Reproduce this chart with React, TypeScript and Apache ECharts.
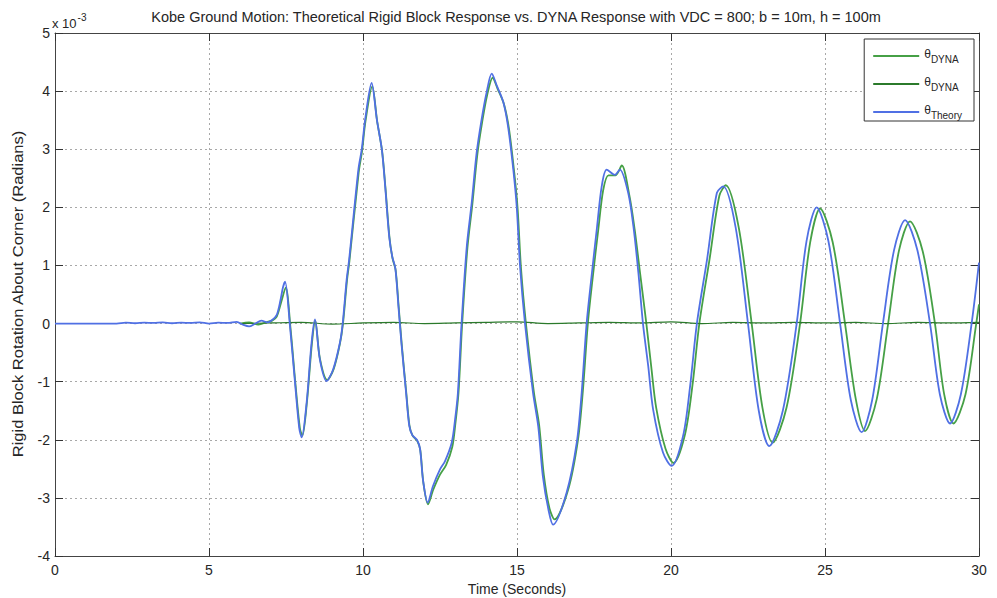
import React, { useEffect, useRef } from "react";
import * as echarts from "echarts";

const titleText =
  "Kobe Ground Motion: Theoretical Rigid Block Response vs. DYNA Response with VDC = 800; b = 10m, h = 100m";
const xAxisTitle = "Time (Seconds)";
const yAxisTitle = "Rigid Block Rotation About Corner (Radians)";
const xMin = 0;
const xMax = 30;
const xStep = 5;
const yMin = -4;
const yMax = 5;
const yStep = 1;

// values in units of 1e-3 rad
const theoryTime = [
  0, 2.0, 2.3, 2.6, 2.9, 3.2, 3.5, 3.8, 4.1, 4.4, 4.7, 5.0, 5.3, 5.6, 5.9, 6.1, 6.3, 6.5, 6.7, 6.9,
  7.05, 7.2, 7.32, 7.4, 7.47, 7.63, 7.79, 7.93, 8.01, 8.17, 8.33, 8.44, 8.6, 8.82, 9.03, 9.25, 9.34,
  9.47, 9.55, 9.85, 9.96, 10.07, 10.28, 10.45, 10.61, 10.72, 10.85, 10.95, 11.05, 11.15, 11.25, 11.4,
  11.5, 11.6, 11.75, 11.85, 11.95, 12.1, 12.27, 12.5, 12.66, 12.88, 12.99, 13.08, 13.2, 13.37, 13.53,
  13.69, 13.85, 14.01, 14.18, 14.34, 14.55, 14.71, 14.88, 14.99, 15.1, 15.26, 15.52, 15.69, 15.84,
  16.02, 16.17, 16.61, 16.94, 17.1, 17.26, 17.42, 17.6, 17.75, 17.91, 18.18, 18.34, 18.61, 18.78,
  18.94, 19.09, 19.26, 19.42, 19.74, 20.02, 20.39, 20.62, 20.84, 21.17, 21.49, 21.7, 22.1, 22.5,
  22.85, 23.19, 23.63, 24.08, 24.4, 24.73, 25.11, 25.49, 25.84, 26.19, 26.53, 26.88, 27.24, 27.6,
  28.0, 28.41, 28.73, 29.06, 29.41, 29.76, 30.0,
];
const theoryValue = [
  0, 0, 0.015, 0.005, 0.015, 0.01, 0.02, 0.005, 0.015, 0.01, 0.02, 0.0, 0.015, 0.01, 0.03, -0.02,
  -0.05, 0.0, 0.05, 0.02, 0.06, 0.15, 0.4, 0.62, 0.72, -0.05, -1.0, -1.8, -1.96, -1.36, -0.33, 0.07,
  -0.62, -0.99, -0.79, -0.33, 0, 0.76, 1.1, 2.65, 3.0, 3.51, 4.14, 3.51, 3.0, 2.36, 1.5, 1.15, 0.95,
  0.3, -0.35, -1.2, -1.75, -1.92, -2.0, -2.15, -2.7, -3.08, -2.8, -2.51, -2.37, -2.05, -1.65, -1.2,
  0, 1.33, 2.08, 2.94, 3.51, 3.97, 4.3, 4.1, 3.82, 3.39, 2.65, 2.02, 0.98, 0, -1.19, -1.77, -2.63,
  -3.2, -3.46, -2.91, -2.05, -1.19, 0, 0.81, 1.67, 2.36, 2.65, 2.56, 2.65, 2.25, 1.67, 0.88, 0,
  -0.73, -1.48, -2.22, -2.45, -1.94, -1.08, 0, 1.1, 2.25, 2.36, 1.65, 0, -1.5, -2.11, -1.5, 0, 1.42,
  2.0, 1.42, 0, -1.32, -1.87, -1.32, 0, 1.26, 1.78, 1.26, 0, -1.22, -1.72, -1.22, 0, 1.05,
];

const dynaTime = [
  6.0, 6.3, 6.6, 6.9, 7.05, 7.2, 7.35, 7.49, 7.65, 7.8, 7.95, 8.03, 8.18, 8.34, 8.45, 8.6, 8.84, 9.05,
  9.25, 9.35, 9.48, 9.56, 9.86, 9.97, 10.08, 10.3, 10.46, 10.62, 10.73, 10.86, 10.96, 11.06, 11.16,
  11.26, 11.41, 11.51, 11.61, 11.76, 11.86, 11.96, 12.11, 12.28, 12.5, 12.7, 12.9, 13.0, 13.1, 13.22,
  13.39, 13.55, 13.71, 13.87, 14.03, 14.21, 14.37, 14.58, 14.74, 14.91, 15.02, 15.13, 15.29, 15.55,
  15.72, 15.87, 16.05, 16.22, 16.66, 16.98, 17.14, 17.3, 17.46, 17.64, 17.8, 17.97, 18.2, 18.4, 18.65,
  18.82, 19.0, 19.2, 19.36, 19.52, 19.82, 20.08, 20.45, 20.7, 20.92, 21.25, 21.57, 21.78, 22.2, 22.62,
  22.97, 23.3, 23.75, 24.19, 24.52, 24.84, 25.25, 25.65, 26.0, 26.3, 26.68, 27.05, 27.4, 27.76,
  28.17, 28.57, 28.87, 29.17, 29.56, 29.91, 30.0,
];
const dynaValue = [
  0, 0.02, -0.02, 0.03, 0.05, 0.12, 0.38, 0.62, -0.1, -1.0, -1.8, -1.93, -1.35, -0.35, 0.05, -0.6,
  -0.97, -0.78, -0.35, 0, 0.74, 1.08, 2.6, 2.97, 3.48, 4.08, 3.48, 2.97, 2.33, 1.48, 1.12, 0.92,
  0.28, -0.37, -1.22, -1.76, -1.93, -2.02, -2.18, -2.74, -3.11, -2.86, -2.6, -2.43, -2.12, -1.72,
  -1.2, 0, 1.3, 2.05, 2.9, 3.47, 3.93, 4.23, 4.04, 3.77, 3.35, 2.6, 1.98, 0.95, 0, -1.19, -1.75,
  -2.6, -3.17, -3.37, -2.86, -2.0, -1.15, 0, 0.8, 1.62, 2.3, 2.55, 2.55, 2.72, 2.2, 1.62, 0.85, 0,
  -0.75, -1.45, -2.15, -2.4, -1.92, -1.05, 0, 1.1, 2.2, 2.38, 1.65, 0, -1.45, -2.05, -1.45, 0, 1.4,
  1.98, 1.4, 0, -1.3, -1.85, -1.3, 0, 1.25, 1.76, 1.25, 0, -1.22, -1.72, -1.22, 0, 0.33,
];

const dynaFlatTime = [
  6, 7, 8, 9, 10, 11, 12, 13, 14, 15, 16, 17, 18, 19, 20, 21, 22, 23, 24, 25, 26, 27, 28, 29, 30,
];
const dynaFlatValue = [
  0, 0.01, 0.02, -0.01, 0.01, 0.02, 0.0, 0.01, 0.02, 0.03, 0.0, 0.01, 0.02, 0.01, 0.03, 0.0, 0.02,
  0.01, 0.02, 0.01, 0.02, 0.0, 0.02, 0.01, 0.02,
];

const seriesNames = ["dynaA", "dynaB", "theory"];
const legendSubscripts = ["DYNA", "DYNA", "Theory"];

const FONT = "Liberation Sans, Arial, sans-serif";
const TEXT = "#262626";

function zip(t: number[], v: number[]) {
  return t.map((x, i) => [x, v[i]]);
}

export default function App() {
  const ref = useRef<HTMLDivElement>(null);
  useEffect(() => {
    if (!ref.current) return;
    const chart = echarts.init(ref.current, undefined, { renderer: "svg" });
    const subMap: Record<string, string> = {};
    seriesNames.forEach((n, i) => (subMap[n] = legendSubscripts[i]));

    const tickStyle = { show: true, inside: true, length: 8, lineStyle: { color: "#333" } };
    const axisLine = { show: true, onZero: false, lineStyle: { color: "#444", width: 1 } };
    const split = { show: true, lineStyle: { color: "#a8a8a8", type: [2, 3] as any, width: 1 } };

    chart.setOption({
      animation: false,
      backgroundColor: "#fff",
      grid: {
        left: 55,
        right: 18,
        top: 33,
        bottom: 42,
        containLabel: false,
        outerBoundsMode: "none",
      },
      graphic: [
        {
          type: "text",
          x: 516,
          y: 17,
          style: {
            text: titleText,
            font: `14.5px ${FONT}`,
            fill: TEXT,
            align: "center",
            verticalAlign: "middle",
          },
        },
        {
          type: "text",
          x: 52,
          y: 11,
          style: {
            text: "{a|x 10}{b|-3}",
            fill: TEXT,
            rich: {
              a: { fontSize: 13, fontFamily: FONT, fill: TEXT, padding: [6, 0, 0, 0] },
              b: { fontSize: 10, fontFamily: FONT, fill: TEXT, padding: [0, 0, 7, 1] },
            },
          },
        },
        {
          type: "text",
          x: 18,
          y: 294,
          rotation: Math.PI / 2,
          scaleX: 1.18,
          style: {
            text: yAxisTitle,
            font: `14px ${FONT}`,
            fill: TEXT,
            align: "center",
            verticalAlign: "middle",
          },
        },
      ],
      legend: {
        orient: "vertical",
        right: 23,
        top: 39,
        align: "left",
        backgroundColor: "#fff",
        borderColor: "#333",
        borderWidth: 1,
        borderRadius: 0,
        padding: [9, 12, 1, 8],
        itemWidth: 46,
        itemHeight: 10,
        itemGap: 12,
        itemStyle: { opacity: 0 },
        data: seriesNames,
        formatter: (name: string) => `{t|θ}{s|${subMap[name]}}`,
        textStyle: {
          color: TEXT,
          rich: {
            t: { fontSize: 12, fontFamily: FONT, color: TEXT, padding: [0, 0, 4, 0] },
            s: { fontSize: 10, fontFamily: FONT, color: TEXT, padding: [6, 0, 0, 0] },
          },
        },
      },
      xAxis: [
        {
          type: "value",
          min: xMin,
          max: xMax,
          interval: xStep,
          position: "bottom",
          name: xAxisTitle,
          nameLocation: "middle",
          nameGap: 25,
          nameTextStyle: { fontSize: 14, fontFamily: FONT, color: TEXT },
          axisLine,
          axisTick: tickStyle,
          axisLabel: { fontSize: 14, fontFamily: FONT, color: TEXT, margin: 7 },
          splitLine: split,
        },
        {
          type: "value",
          min: xMin,
          max: xMax,
          interval: xStep,
          position: "top",
          axisLine,
          axisTick: tickStyle,
          axisLabel: { show: false },
          splitLine: { show: false },
        },
      ],
      yAxis: [
        {
          type: "value",
          min: yMin,
          max: yMax,
          interval: yStep,
          position: "left",
          axisLine,
          axisTick: tickStyle,
          axisLabel: { fontSize: 14, fontFamily: FONT, color: TEXT, margin: 5 },
          splitLine: split,
        },
        {
          type: "value",
          min: yMin,
          max: yMax,
          interval: yStep,
          position: "right",
          axisLine,
          axisTick: tickStyle,
          axisLabel: { show: false },
          splitLine: { show: false },
        },
      ],
      series: [
        {
          name: seriesNames[0],
          type: "line",
          data: zip(dynaTime, dynaValue),
          symbol: "none",
          smooth: 0.3,
          lineStyle: { color: "#46a046", width: 1.8 },
          itemStyle: { color: "#5f9a5f" },
          z: 2,
        },
        {
          name: seriesNames[1],
          type: "line",
          data: zip(dynaFlatTime, dynaFlatValue),
          symbol: "none",
          smooth: 0.3,
          lineStyle: { color: "#2b7a2b", width: 1.2 },
          itemStyle: { color: "#5f9a5f" },
          z: 3,
        },
        {
          name: seriesNames[2],
          type: "line",
          data: zip(theoryTime, theoryValue),
          symbol: "none",
          smooth: 0.3,
          lineStyle: { color: "#5070e4", width: 1.8 },
          itemStyle: { color: "#6a7ad0" },
          z: 4,
        },
      ],
    });
    return () => chart.dispose();
  }, []);
  return (
    <div
      ref={ref}
      style={{ position: "fixed", left: 0, top: 0, width: 997, height: 598, background: "#fff" }}
    />
  );
}
